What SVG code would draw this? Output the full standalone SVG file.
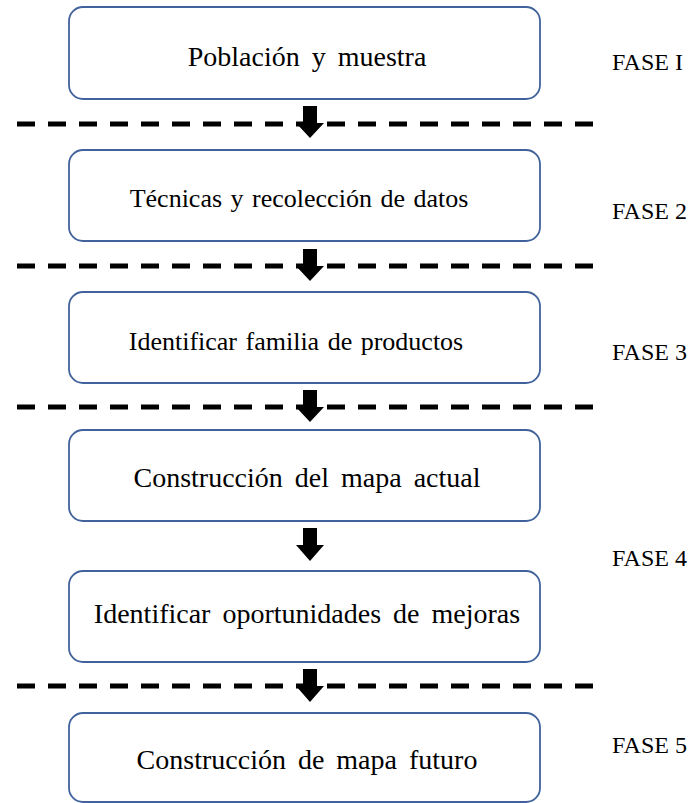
<svg xmlns="http://www.w3.org/2000/svg" width="694" height="803" viewBox="0 0 694 803">
<style>
.box{fill:#fff;stroke:#41629B;stroke-width:1.8}
.t{font-family:"Liberation Serif","Times New Roman",serif;font-size:28px;fill:#000;text-anchor:middle;word-spacing:5px}
.s{font-size:26px;word-spacing:2px}
.f{font-family:"Liberation Serif","Times New Roman",serif;font-size:24px;fill:#000}
.dash{stroke:#000;stroke-width:5;stroke-dasharray:18 13;fill:none}
.arr{fill:#000}
</style>
<rect width="694" height="803" fill="#fff"/>
<g id="n1"><rect class="box" x="69" y="7" width="471" height="92" rx="14"/><text class="t" x="307" y="66">Población y muestra</text></g>
<g id="n2"><rect class="box" x="69" y="150" width="471" height="91" rx="14"/><text class="t s" x="299" y="207">Técnicas y recolección de datos</text></g>
<g id="n3"><rect class="box" x="69" y="292" width="471" height="91" rx="14"/><text class="t s" x="296" y="350">Identificar familia de productos</text></g>
<g id="n4"><rect class="box" x="69" y="430" width="471" height="91" rx="14"/><text class="t" x="307" y="487">Construcción del mapa actual</text></g>
<g id="n5"><rect class="box" x="69" y="571" width="471" height="91" rx="14"/><text class="t" x="307" y="623">Identificar oportunidades de mejoras</text></g>
<g id="n6"><rect class="box" x="69" y="713" width="471" height="89" rx="14"/><text class="t" x="307" y="769">Construcción de mapa futuro</text></g>
<g id="phases">
<text class="f" x="612" y="70">FASE I</text>
<text class="f" x="612" y="219">FASE 2</text>
<text class="f" x="612" y="360">FASE 3</text>
<text class="f" x="612" y="566">FASE 4</text>
<text class="f" x="612" y="753">FASE 5</text>
</g>
<g id="connectors">
<line class="dash" x1="17" y1="124" x2="593" y2="124"/>
<line class="dash" x1="17" y1="266" x2="593" y2="266"/>
<line class="dash" x1="17" y1="407" x2="593" y2="407"/>
<line class="dash" x1="17" y1="686" x2="593" y2="686"/>
<polygon class="arr" points="303,106 317,106 317,123 324,123 310,138 296,123 303,123"/>
<polygon class="arr" points="303,249 317,249 317,266 324,266 310,281 296,266 303,266"/>
<polygon class="arr" points="303,390 317,390 317,407 324,407 310,422 296,407 303,407"/>
<polygon class="arr" points="303,528 317,528 317,545 324,545 310,561 296,545 303,545"/>
<polygon class="arr" points="303,669 317,669 317,686 324,686 310,702 296,686 303,686"/>
</g>
</svg>
